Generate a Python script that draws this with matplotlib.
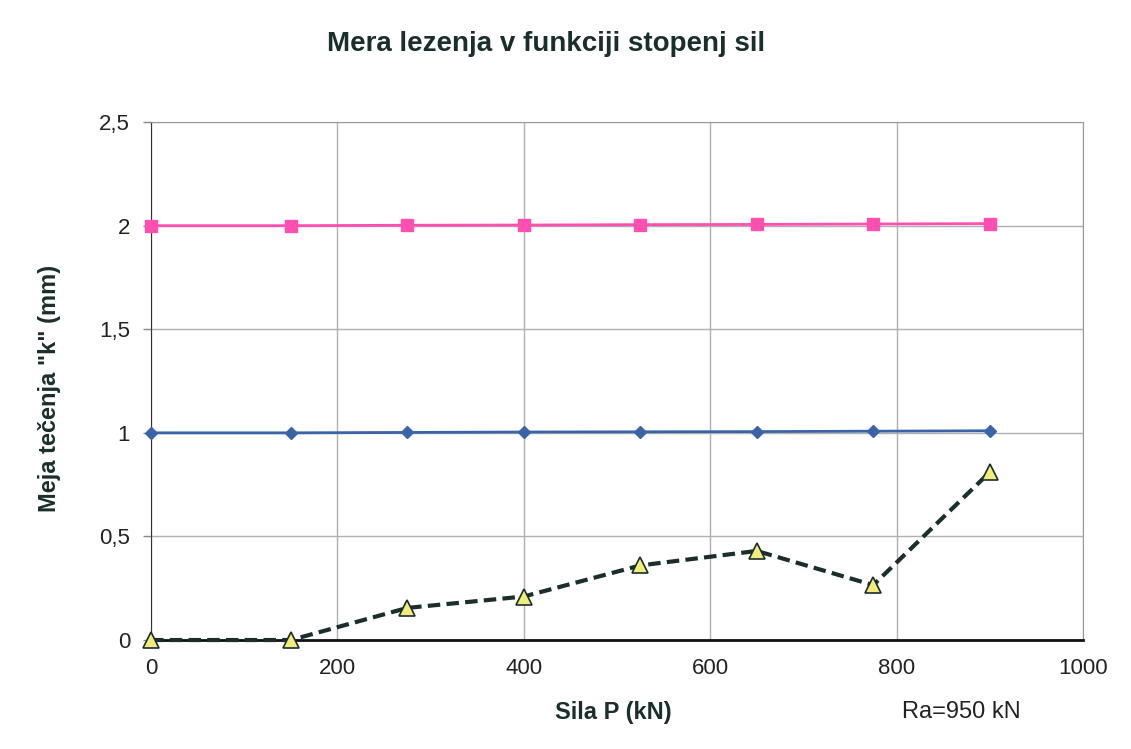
import numpy as np
import matplotlib.pyplot as plt
from matplotlib.ticker import FuncFormatter

plt.rcParams['font.family'] = ['Liberation Sans', 'DejaVu Sans']

# data
sila = [0, 150, 275, 400, 525, 650, 775, 900]
meja_1 = [1.0, 1.0, 1.002, 1.004, 1.005, 1.006, 1.008, 1.01]
meja_2 = [2.0, 2.0, 2.002, 2.003, 2.005, 2.006, 2.008, 2.01]
lezenje = [0.0, 0.0, 0.155, 0.21, 0.36, 0.43, 0.265, 0.81]

fig = plt.figure(figsize=(11.31, 7.49), dpi=100)
ax = fig.add_axes([0.1335, 0.1455, 0.824, 0.6915])

ax.plot(sila, meja_2, color='#ff4fb0', lw=2, marker='s', ms=8, zorder=3, clip_on=False)
ax.plot(sila, meja_1, color='#3b64a8', lw=2, marker='D', ms=6, zorder=3, clip_on=False)
ax.plot(sila, lezenje, color='#1a2e2c', lw=3, ls=(0, (3, 1.5)), marker='^', ms=11,
        mfc='#f2ec7a', mec='#1a2e2c', mew=1.2, zorder=4, clip_on=False)

ax.set_xlim(0, 1000)
ax.set_ylim(0, 2.5)
ax.set_xticks(np.arange(0, 1001, 200))
ax.set_yticks(np.arange(0, 2.51, 0.5))
fmt = FuncFormatter(lambda v, p: ('%g' % v).replace('.', ','))
ax.yaxis.set_major_formatter(fmt)
ax.grid(True, color='#b0b0b0', lw=1)
ax.set_axisbelow(True)
ax.tick_params(axis='both', labelsize=16, labelcolor='#222222', color='#888888', length=6, width=1)
ax.tick_params(axis='y', pad=9)
ax.tick_params(axis='x', length=0, pad=13)

for s in ['top', 'right']:
    ax.spines[s].set_color('#999999')
ax.spines['left'].set_color('#333333')
ax.spines['bottom'].set_color('#111111')
ax.spines['bottom'].set_linewidth(2)

fig.text(0.483, 0.941, 'Mera lezenja v funkciji stopenj sil', fontsize=20, fontweight='bold',
         color='#1a2e2c', ha='center', va='center')
fig.text(0.044, 0.482, 'Meja tečenja "k" (mm)', fontsize=17, fontweight='bold', color='#1a2e2c',
         rotation=90, ha='center', va='center')
fig.text(0.542, 0.049, 'Sila P (kN)', fontsize=17, fontweight='bold', color='#1a2e2c',
         ha='center', va='center')
fig.text(0.85, 0.049, 'Ra=950 kN', fontsize=17, color='#222222', ha='center', va='center')

fig.savefig('out.png', dpi=100)
